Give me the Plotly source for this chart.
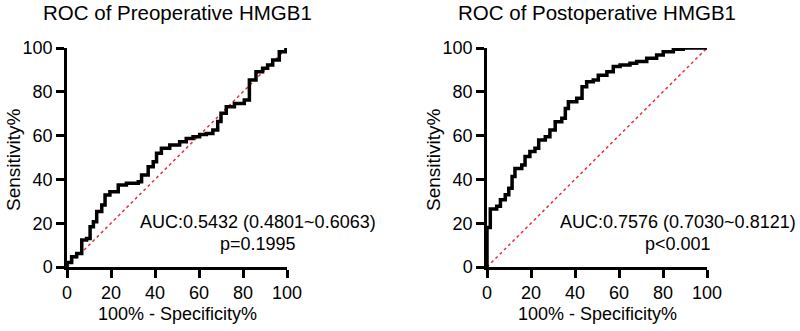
import plotly.graph_objects as go

# ---- data ----
pre_fpr = [0, 0, 2.1, 4.4, 6.7, 8.9, 10.5, 12.0, 13.5, 15.8, 17.3, 19.5, 23.3, 27.0, 32.4, 33.9,
           36.9, 39.2, 40.7, 42.9, 46.7, 51.2, 54.2, 57.3, 60.3, 63.3, 66.3, 68.5, 70.0, 72.4,
           76.1, 80.6, 82.9, 82.9, 85.9, 88.9, 91.2, 93.5, 96.5, 99.5, 100]
pre_tpr = [0, 2.0, 4.7, 6.2, 12.3, 13.0, 18.4, 20.7, 25.3, 28.3, 32.9, 34.4, 37.4, 38.2, 38.9, 42.0,
           45.8, 48.1, 51.9, 54.2, 55.7, 57.2, 58.7, 59.5, 60.5, 61.0, 62.5, 66.4, 70.2, 73.2,
           74.7, 76.2, 78.5, 85.4, 89.2, 90.7, 92.2, 94.5, 98.3, 99.4, 100]

post_fpr = [0, 0, 1.5, 4.4, 6.1, 8.3, 9.9, 11.4, 12.7, 15.8, 17.3, 19.5, 21.8, 23.5, 26.5, 28.6,
            31.0, 34.0, 35.6, 37.0, 40.8, 43.2, 45.3, 48.3, 50.6, 54.5, 57.4, 60.5, 65.0, 68.0,
            72.6, 77.1, 80.1, 84.7, 89.2, 100]
post_tpr = [0, 18.0, 26.5, 27.7, 30.7, 33.0, 36.0, 41.3, 45.0, 46.6, 50.4, 52.7, 54.2, 58.0, 59.5, 62.5,
            66.3, 67.9, 72.4, 75.5, 77.0, 82.3, 84.6, 85.4, 87.6, 89.2, 91.5, 92.2, 93.0, 93.8,
            95.3, 96.8, 98.3, 99.4, 100, 100]

ref_line = [0, 100]
tick_vals = [0, 20, 40, 60, 80, 100]
titles = ["ROC of Preoperative HMGB1", "ROC of Postoperative HMGB1"]
auc_texts = ["AUC:0.5432 (0.4801~0.6063)", "AUC:0.7576 (0.7030~0.8121)"]
p_texts = ["p=0.1995", "p<0.001"]
x_title = "100% - Specificity%"
y_title = "Sensitivity%"

W, H = 800, 331
FONT = "Liberation Sans, Arial, sans-serif"

fig = go.Figure()

curves = [(pre_fpr, pre_tpr), (post_fpr, post_tpr)]
for i, (fx, fy) in enumerate(curves):
    xa = "x" if i == 0 else "x2"
    ya = "y" if i == 0 else "y2"
    fig.add_trace(go.Scatter(x=ref_line, y=ref_line, mode="lines", xaxis=xa, yaxis=ya,
                             line=dict(color="#e8303c", width=1.5, dash="dot"),
                             showlegend=False, hoverinfo="skip", cliponaxis=False))
    fig.add_trace(go.Scatter(x=fx, y=fy, mode="lines", xaxis=xa, yaxis=ya, line_shape="hv",
                             line=dict(color="black", width=3.5),
                             showlegend=False, cliponaxis=False))

x_domains = [[67 / W, 287 / W], [487 / W, 707 / W]]
y_domain = [(H - 267) / H, (H - 48) / H]

axis_common = dict(range=[0, 100], tickvals=tick_vals, showline=True, linecolor="black",
                   linewidth=2.5, ticks="outside", ticklen=8, tickwidth=2.5, tickcolor="black",
                   showgrid=False, zeroline=False, tickfont=dict(family=FONT, size=18, color="black"),
                   fixedrange=True, automargin=False)

fig.update_layout(
    width=W, height=H, margin=dict(l=0, r=0, t=0, b=0),
    paper_bgcolor="white", plot_bgcolor="white",
    xaxis=dict(domain=x_domains[0], anchor="y", **axis_common),
    yaxis=dict(domain=y_domain, anchor="x", **axis_common),
    xaxis2=dict(domain=x_domains[1], anchor="y2", **axis_common),
    yaxis2=dict(domain=y_domain, anchor="x2", **axis_common),
)

annotations = []
centers = [177, 597]
ytitle_x = [13, 433]
for i in range(2):
    xr = "x" if i == 0 else "x2"
    yr = "y" if i == 0 else "y2"
    annotations.append(dict(text=titles[i], x=centers[i] / W, y=1 - 12 / H, xref="paper", yref="paper",
                            xanchor="center", yanchor="middle", showarrow=False,
                            font=dict(family=FONT, size=20.5, color="black")))
    annotations.append(dict(text=x_title, x=centers[i] / W, y=1 - 314 / H, xref="paper", yref="paper",
                            xanchor="center", yanchor="middle", showarrow=False,
                            font=dict(family=FONT, size=18, color="black")))
    annotations.append(dict(text=y_title, x=ytitle_x[i] / W, y=1 - 160 / H, xref="paper", yref="paper",
                            xanchor="center", yanchor="middle", showarrow=False, textangle=-90,
                            font=dict(family=FONT, size=19, color="black")))
    annotations.append(dict(text=auc_texts[i], x=87.0, y=20.5, xref=xr, yref=yr,
                            xanchor="center", yanchor="middle", showarrow=False,
                            font=dict(family=FONT, size=18, color="black")))
    annotations.append(dict(text=p_texts[i], x=87.0, y=10.5, xref=xr, yref=yr,
                            xanchor="center", yanchor="middle", showarrow=False,
                            font=dict(family=FONT, size=18, color="black")))

fig.update_layout(annotations=annotations)

fig.write_html("out.html", config={"displayModeBar": False},
               post_script="document.body.style.margin='0px';document.body.style.overflow='hidden';")
